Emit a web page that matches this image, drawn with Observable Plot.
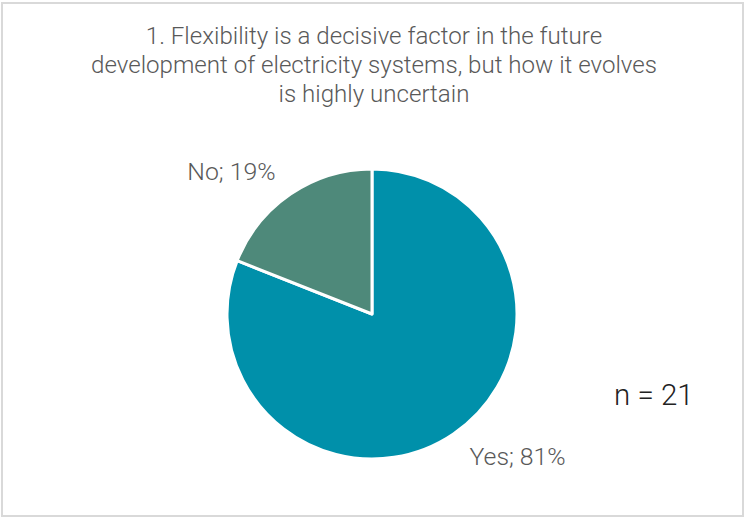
<!DOCTYPE html>
<html>
<head>
<meta charset="utf-8">
<script src="https://cdn.jsdelivr.net/npm/d3@7"></script>
<script src="https://cdn.jsdelivr.net/npm/@observablehq/plot@0.6"></script>
<style>
  html, body { margin: 0; padding: 0; background: #fff; }
  #frame { position: absolute; left: 1px; top: 2px; width: 739px; height: 511px; border: 2px solid #d9d9d9; box-sizing: content-box; overflow: hidden; }
  #title { position: absolute; left: 2px; top: 22px; width: 744px; text-align: center; font-family: Roboto, "Noto Sans", sans-serif; font-weight: 300; font-size: 24.1px; line-height: 29px; color: #595959; }
  #chart { position: absolute; left: 0; top: 120px; }
</style>
</head>
<body>
<div id="frame"></div>
<div id="title">1. Flexibility is a decisive factor in the future<br>development of electricity systems, but how it evolves<br>is highly uncertain</div>
<div id="chart"></div>
<script>
const categories = ["Yes", "No"];
const shares = [81, 19];
const sliceColors = ["#0090AA", "#4E897A"];
const sampleSize = 21;

const data = categories.map((c, i) => ({label: c, value: shares[i]}));
const arcs = d3.pie().sort(null).value(d => d.value)(data);
const labelRadius = 1.19;
const labels = arcs.map(a => {
  const m = (a.startAngle + a.endAngle) / 2;
  const x = Math.sin(m) * labelRadius;
  const y = Math.cos(m) * labelRadius;
  return {text: `${a.data.label}; ${a.data.value}%`, x, y, anchor: x < 0 ? "end" : "start"};
});

const W = 744, H = 397, cx = 372, cy = 194, R = 145;

function pieMark(index, scales, values, dimensions, context) {
  const x0 = scales.x(0), y0 = scales.y(0);
  const r = scales.x(1) - scales.x(0);
  const arc = d3.arc().innerRadius(0).outerRadius(r);
  const g = d3.create("svg:g").attr("transform", `translate(${x0},${y0})`);
  g.selectAll("path").data(arcs).join("path")
    .attr("d", arc)
    .attr("fill", d => scales.color(d.data.label))
    .attr("stroke", "#fff")
    .attr("stroke-width", 3)
    .attr("stroke-linejoin", "round");
  return g.node();
}

const plot = Plot.plot({
  width: W, height: H,
  margin: 0,
  style: {fontFamily: "Roboto, 'Noto Sans', sans-serif", background: "transparent", overflow: "visible"},
  x: {domain: [-cx / R, (W - cx) / R], range: [0, W], axis: null},
  y: {domain: [-(H - cy) / R, cy / R], range: [H, 0], axis: null},
  color: {domain: categories, range: sliceColors},
  marks: [
    Plot.dot(data, {x: () => 0, y: () => 0, r: 0, fill: "label"}),
    pieMark,
    Plot.text(labels.filter(d => d.anchor === "end"), {x: "x", y: "y", text: "text", textAnchor: "end", fill: "#595959", fontSize: 24.8, fontWeight: 300, lineAnchor: "middle"}),
    Plot.text(labels.filter(d => d.anchor === "start"), {x: "x", y: "y", text: "text", textAnchor: "start", fill: "#595959", fontSize: 24.8, fontWeight: 300, lineAnchor: "middle"}),
    Plot.text([`n = ${sampleSize}`], {x: () => 1.94, y: () => -0.56, text: d => d, fill: "#222", fontSize: 29.5, fontWeight: 300, textAnchor: "middle", lineAnchor: "middle"})
  ]
});
document.getElementById("chart").appendChild(plot);
</script>
</body>
</html>
